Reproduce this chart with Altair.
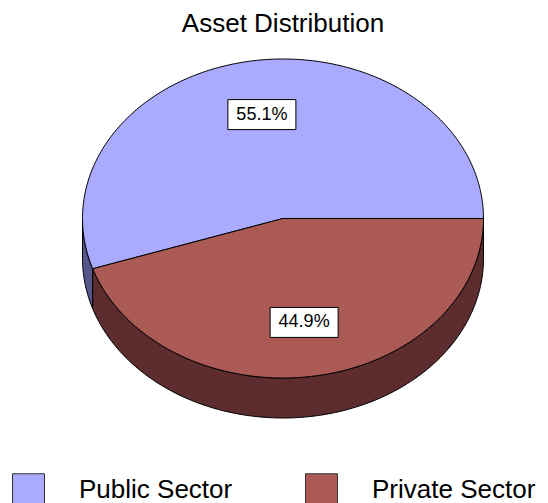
import numpy as np
import pandas as pd
import altair as alt

# ---- data ----
categories = ["Public Sector", "Private Sector"]
values = [55.1, 44.9]
top_colors = ["#aaaaff", "#ab5a56"]
side_colors = ["#56568a", "#5c2c2e"]

# ---- layout (plot-area pixel coordinates) ----
W, H = 532, 455
PAD_TOP = 40
CX, CY = 275.0, 170.5
RX, RY = 200.5, 159.5
DEPTH = 40.0
STEPS = 360

total = sum(values)
bounds = np.concatenate([[0.0], np.cumsum(values) / total * 2 * np.pi])

top_rows, side_rows, label_rows = [], [], []
for i, cat in enumerate(categories):
    a0, a1 = bounds[i], bounds[i + 1]
    n = max(2, int(STEPS * (a1 - a0) / (2 * np.pi)))
    th = np.linspace(a0, a1, n)
    pts = [(CX, CY)] + [(CX + RX * np.cos(t), CY - RY * np.sin(t)) for t in th] + [(CX, CY)]
    for k, (x, y) in enumerate(pts):
        top_rows.append({"cat": cat, "k": k, "x": x, "y": y})
    # side (visible lower half only)
    lo, hi = max(a0, np.pi), min(a1, 2 * np.pi)
    if hi > lo:
        m = max(2, int(STEPS * (hi - lo) / (2 * np.pi)))
        ts = np.linspace(lo, hi, m)
        spts = [(CX + RX * np.cos(t), CY - RY * np.sin(t)) for t in ts]
        spts += [(CX + RX * np.cos(t), CY - RY * np.sin(t) + DEPTH) for t in ts[::-1]]
        spts.append(spts[0])
        for k, (x, y) in enumerate(spts):
            side_rows.append({"side": cat + " side", "k": k, "x": x, "y": y})
    mid = (a0 + a1) / 2
    r = 0.66
    label_rows.append({
        "cat": cat,
        "label": f"{values[i] / total * 100:.1f}%",
        "x": CX + r * RX * np.cos(mid),
        "y": CY - r * RY * np.sin(mid),
    })

top_df = pd.DataFrame(top_rows)
side_df = pd.DataFrame(side_rows)
label_df = pd.DataFrame(label_rows)

xs = alt.Scale(domain=[0, W], nice=False, zero=False)
ys = alt.Scale(domain=[0, H], nice=False, zero=False, reverse=True)

side = alt.Chart(side_df).mark_line(stroke="black", strokeWidth=1, strokeJoin="round").encode(
    x=alt.X("x:Q", scale=xs, axis=None),
    y=alt.Y("y:Q", scale=ys, axis=None),
    fill=alt.Fill("side:N", scale=alt.Scale(domain=[c + " side" for c in categories], range=side_colors), legend=None),
    detail="side:N",
    order="k:Q",
)

top = alt.Chart(top_df).mark_line(stroke="black", strokeWidth=1, strokeJoin="round").encode(
    x=alt.X("x:Q", scale=xs, axis=None),
    y=alt.Y("y:Q", scale=ys, axis=None),
    fill=alt.Fill(
        "cat:N",
        scale=alt.Scale(domain=categories, range=top_colors),
        legend=alt.Legend(
            title=None,
            orient="none",
            legendX=4,
            legendY=425,
            direction="horizontal",
            columns=2,
            symbolType="square",
            symbolSize=1024,
            symbolStrokeColor="#333333",
            symbolStrokeWidth=1,
            labelFontSize=26,
            labelFont="Liberation Sans",
            labelColor="black",
            labelOffset=34,
            labelLimit=400,
            columnPadding=70,
            padding=0,
        ),
    ),
    detail="cat:N",
    order="k:Q",
)

boxes = alt.Chart(label_df).transform_calculate(
    x1="datum.x - 34", x2="datum.x + 34", y1="datum.y - 15", y2="datum.y + 15"
).mark_rect(fill="white", stroke="black", strokeWidth=1).encode(
    x=alt.X("x1:Q", scale=xs, axis=None),
    x2="x2:Q",
    y=alt.Y("y1:Q", scale=ys, axis=None),
    y2="y2:Q",
)

texts = alt.Chart(label_df).mark_text(
    fontSize=18, font="Liberation Sans", color="black", align="center", baseline="middle"
).encode(
    x=alt.X("x:Q", scale=xs, axis=None),
    y=alt.Y("y:Q", scale=ys, axis=None),
    text="label:N",
)

chart = alt.layer(side, top, boxes, texts).resolve_scale(fill="independent").properties(
    width=W,
    height=H,
    autosize=alt.AutoSizeParams(type="none"),
    padding={"left": 0, "right": 0, "top": PAD_TOP, "bottom": 0},
    title=alt.TitleParams(
        "Asset Distribution",
        fontSize=26,
        font="Liberation Sans",
        fontWeight="normal",
        color="black",
        anchor="middle",
        dx=9,
        offset=11,
    ),
).configure_view(stroke=None)

chart.save("out.html", embed_options={"renderer": "svg", "actions": False})
